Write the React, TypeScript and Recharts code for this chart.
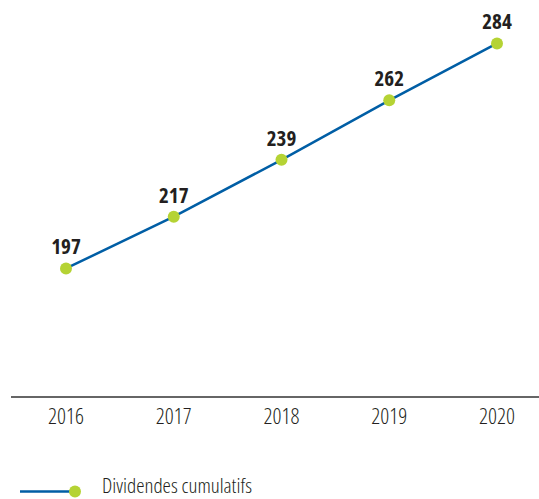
import React from "react";
import { LineChart, Line, XAxis, YAxis, LabelList, Legend } from "recharts";

const years = ["2016", "2017", "2018", "2019", "2020"];
const dividendes = [197, 217, 239, 262, 284];
const seriesName = "Dividendes cumulatifs";

const data = years.map((y, i) => ({ year: y, value: dividendes[i] }));

const FONT = "'Open Sans', 'DejaVu Sans Condensed', sans-serif";
const LINE_COLOR = "#005ea5";
const DOT_COLOR = "#b5d334";
const TEXT_COLOR = "#231f20";

const LegendContent = () => (
  <svg width={320} height={30} style={{ display: "block" }}>
    <line x1={0} y1={22.5} x2={55} y2={22.5} stroke={LINE_COLOR} strokeWidth={2.5} />
    <circle cx={55} cy={22.5} r={6} fill={DOT_COLOR} />
    <text
      x={82}
      y={24}
      fontFamily={FONT}
      fontSize={21}
      fontWeight={360}
      fill={TEXT_COLOR}
      style={{ fontStretch: "80%" }}
    >
      {seriesName}
    </text>
  </svg>
);

export default function App() {
  return (
    <div style={{ position: "absolute", left: 0, top: 0, background: "#fff" }}>
      <LineChart
        width={539}
        height={499}
        data={data}
        margin={{ top: 2, right: 0, bottom: 0, left: 11 }}
      >
        <XAxis
          dataKey="year"
          padding={{ left: 55, right: 42 }}
          axisLine={{ stroke: "#333", strokeWidth: 1.5 }}
          tickLine={false}
          height={72}
          tick={{
            fontFamily: FONT,
            fontSize: 22,
            fontWeight: 360,
            fill: TEXT_COLOR,
            style: { fontStretch: "75%" },
          }}
          tickMargin={5}
          interval={0}
        />
        <YAxis hide domain={[147.3, 300]} />
        <Legend
          verticalAlign="bottom"
          content={<LegendContent />}
          wrapperStyle={{ position: "absolute", left: 20, top: 469, width: 320, height: 30 }}
        />
        <Line
          type="linear"
          dataKey="value"
          name={seriesName}
          stroke={LINE_COLOR}
          strokeWidth={2.5}
          dot={{ r: 6, fill: DOT_COLOR, stroke: "none" }}
          activeDot={false}
          isAnimationActive={false}
        >
          <LabelList
            dataKey="value"
            position="top"
            offset={14}
            style={{ fontFamily: FONT, fontSize: 21, fontWeight: 700, fill: TEXT_COLOR, fontStretch: "75%" }}
          />
        </Line>
      </LineChart>
    </div>
  );
}
